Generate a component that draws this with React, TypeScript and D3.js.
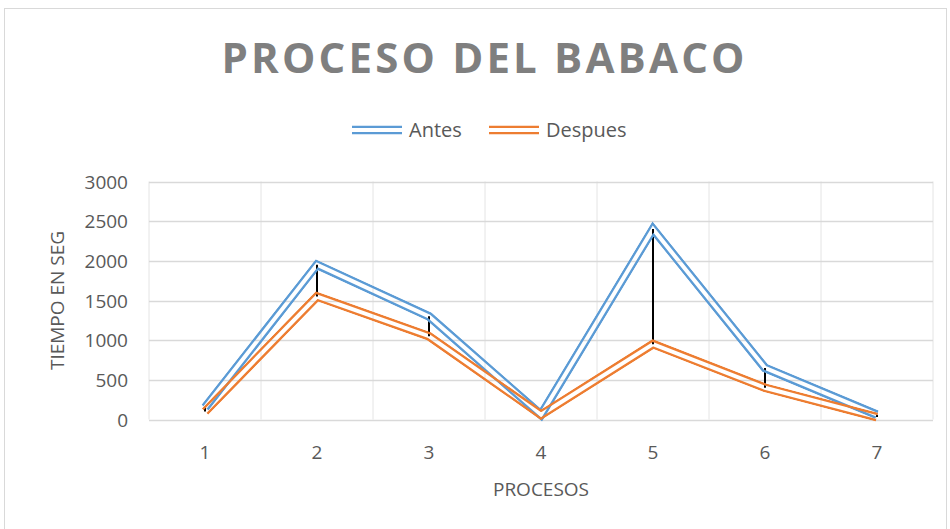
import React from "react";
import * as d3 from "d3";

const categories = ["1", "2", "3", "4", "5", "6", "7"];
const antes = [150, 1950, 1300, 60, 2400, 650, 60];
const despues = [100, 1550, 1050, 60, 950, 400, 30];
const yTicks = [0, 500, 1000, 1500, 2000, 2500, 3000];

const W = 950;
const H = 529;
const PLOT = { LEFT: 149, RIGHT: 933, TOP: 181.5, BOTTOM: 419.5 };
const FONT = "'Open Sans', sans-serif";
const TEXT = "#595959";
const GRID = "#D9D9D9";

const series = [
  { key: "antes", label: "Antes", values: antes, color: "#5B9BD5" },
  { key: "despues", label: "Despues", values: despues, color: "#ED7D31" },
];

// compound "double" line: outer width and transparent gap
const OUTER = 9;
const INNER = 4;

const App: React.FC = () => {
  const x = d3
    .scalePoint<string>()
    .domain(categories)
    .range([PLOT.LEFT, PLOT.RIGHT])
    .padding(0.5);
  const step = x.step();
  const y = d3.scaleLinear().domain([0, 3000]).range([PLOT.BOTTOM, PLOT.TOP]);

  const line = d3
    .line<number>()
    .x((_, i) => x(categories[i])!)
    .y((d) => y(d));

  const bounds = d3.range(categories.length + 1).map((i) => PLOT.LEFT + i * step);

  const legendItems = [
    { s: series[0], lx: 352, tx: 409 },
    { s: series[1], lx: 489, tx: 546 },
  ];

  return (
    <svg width={W} height={H} style={{ display: "block", position: "absolute", left: 0, top: 0 }}>
      <rect x={0} y={0} width={W} height={H} fill="#fff" />
      <rect x={4.5} y={8.5} width={942} height={540} fill="#fff" stroke={GRID} strokeWidth={1} />

      <defs>
        {series.map((s) => (
          <mask key={s.key} id={`m-${s.key}`} maskUnits="userSpaceOnUse" x={0} y={0} width={W} height={H}>
            <path d={line(s.values)!} fill="none" stroke="#fff" strokeWidth={OUTER} strokeLinejoin="miter" strokeMiterlimit={10} />
            <path d={line(s.values)!} fill="none" stroke="#000" strokeWidth={INNER} strokeLinejoin="miter" strokeMiterlimit={10} />
          </mask>
        ))}
        {legendItems.map(({ s, lx }) => (
          <mask key={s.key} id={`lm-${s.key}`} maskUnits="userSpaceOnUse" x={0} y={0} width={W} height={H}>
            <line x1={lx} x2={lx + 50} y1={130} y2={130} stroke="#fff" strokeWidth={OUTER} />
            <line x1={lx} x2={lx + 50} y1={130} y2={130} stroke="#000" strokeWidth={INNER} />
          </mask>
        ))}
      </defs>

      <text
        x={483}
        y={73}
        textAnchor="middle"
        fontFamily={FONT}
        fontWeight={700}
        fontSize={42}
        fill="#7F7F7F"
        textLength={523}
        lengthAdjust="spacing"
      >
        PROCESO DEL BABACO
      </text>

      {legendItems.map(({ s, lx, tx }) => (
        <g key={s.key}>
          <line x1={lx} x2={lx + 50} y1={130} y2={130} stroke={s.color} strokeWidth={OUTER} mask={`url(#lm-${s.key})`} />
          <text x={tx} y={137} fontFamily={FONT} fontSize={20} fill={TEXT}>
            {s.label}
          </text>
        </g>
      ))}

      {yTicks.map((t) => (
        <line key={`h${t}`} x1={PLOT.LEFT} x2={PLOT.RIGHT} y1={Math.round(y(t)) + 0.5} y2={Math.round(y(t)) + 0.5} stroke={GRID} strokeWidth={1.5} />
      ))}
      {bounds.map((b, i) => (
        <line key={`v${i}`} x1={b} x2={b} y1={PLOT.TOP} y2={PLOT.BOTTOM} stroke={GRID} strokeWidth={1} strokeOpacity={0.7} />
      ))}

      {yTicks.map((t) => (
        <text key={`yl${t}`} x={128} y={y(t) + 7} textAnchor="end" fontFamily={FONT} fontSize={19} fill={TEXT}>
          {t}
        </text>
      ))}
      {categories.map((c) => (
        <text key={`xl${c}`} x={x(c)} y={459} textAnchor="middle" fontFamily={FONT} fontSize={19} fill={TEXT}>
          {c}
        </text>
      ))}

      <text x={541} y={496} textAnchor="middle" fontFamily={FONT} fontSize={19} fill={TEXT}>
        PROCESOS
      </text>
      <text
        transform={`translate(64, ${(PLOT.TOP + PLOT.BOTTOM) / 2}) rotate(-90)`}
        textAnchor="middle"
        fontFamily={FONT}
        fontSize={19}
        fill={TEXT}
      >
        TIEMPO EN SEG
      </text>

      {categories.map((c, i) => {
        const hi = Math.max(antes[i], despues[i]);
        const lo = Math.min(antes[i], despues[i]);
        return <line key={`hl${c}`} x1={x(c)} x2={x(c)} y1={y(hi)} y2={y(lo)} stroke="#000" strokeWidth={2} />;
      })}

      {series.map((s) => (
        <path
          key={s.key}
          d={line(s.values)!}
          fill="none"
          stroke={s.color}
          strokeWidth={OUTER}
          strokeLinejoin="miter"
          strokeMiterlimit={10}
          mask={`url(#m-${s.key})`}
        />
      ))}
    </svg>
  );
};

export default App;
